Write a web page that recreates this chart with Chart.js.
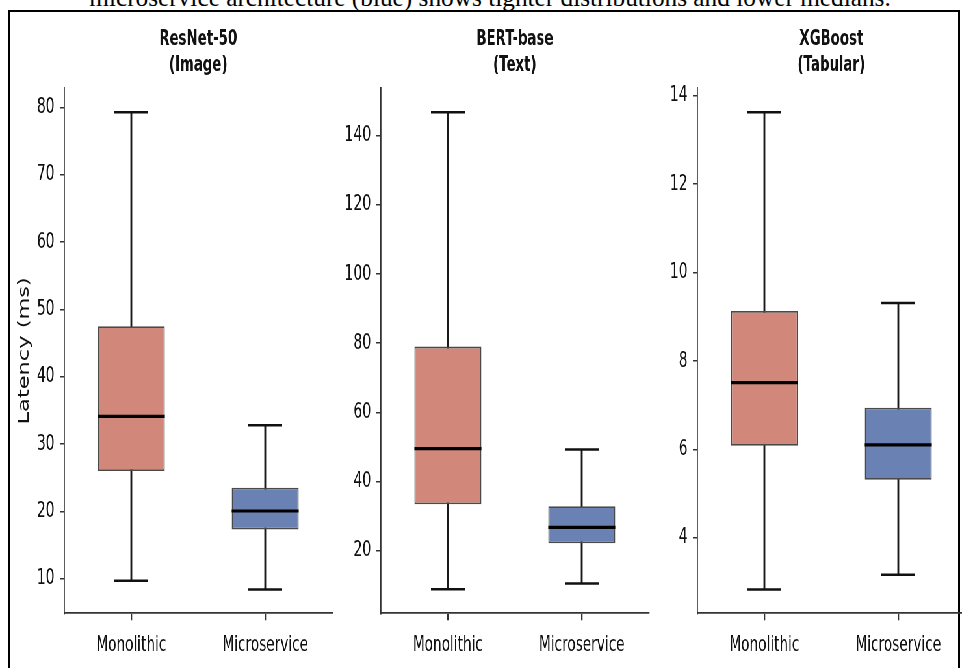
<!DOCTYPE html>
<html>
<head>
<meta charset="utf-8">
<script src="https://cdn.jsdelivr.net/npm/chart.js@4.4.1/dist/chart.umd.min.js"></script>
<style>
html, body { margin: 0; padding: 0; background: #fff; overflow: hidden; width: 962px; height: 668px; }
#caption { position: absolute; left: 0; top: -13.6px; width: 980px; text-align: center; font-family: 'Liberation Serif', serif; font-size: 25.3px; line-height: 22px; color: #000; white-space: nowrap; }
#frame { position: absolute; left: 8px; top: 10px; width: 948px; height: 720px; border: 2px solid #000; }
#stage { position: absolute; left: 0; top: 0; width: 1600px; height: 668px; transform: scaleX(0.65); transform-origin: 0 0; }
#stage canvas { position: absolute; top: 0; }
</style>
</head>
<body>
<div id="caption">microservice architecture (blue) shows tighter distributions and lower medians.</div>
<div id="frame"></div>
<div id="stage">
  <canvas id="c0" width="608" height="668" style="left:1px"></canvas>
  <canvas id="c1" width="608" height="668" style="left:488px"></canvas>
  <canvas id="c2" width="608" height="668" style="left:975px"></canvas>
</div>
<script>
// ---- data ----
const categories = ['Monolithic', 'Microservice'];
const yAxisLabel = 'Latency (ms)';

const resnetTitle = ['ResNet-50', '(Image)'];
const resnetMin    = [9.7, 8.4];
const resnetQ1     = [26.0, 17.3];
const resnetMedian = [34.1, 20.05];
const resnetQ3     = [47.5, 23.5];
const resnetMax    = [79.3, 32.8];
const resnetTicks  = [10, 20, 30, 40, 50, 60, 70, 80];
const resnetLimits = [4.85, 82.86];

const bertTitle = ['BERT-base', '(Text)'];
const bertMin    = [8.8, 10.5];
const bertQ1     = [33.4, 22.1];
const bertMedian = [49.5, 26.7];
const bertQ3     = [79.0, 32.8];
const bertMax    = [146.8, 49.2];
const bertTicks  = [20, 40, 60, 80, 100, 120, 140];
const bertLimits = [1.86, 153.7];

const xgbTitle = ['XGBoost', '(Tabular)'];
const xgbMin    = [2.83, 3.16];
const xgbQ1     = [6.08, 5.31];
const xgbMedian = [7.51, 6.10];
const xgbQ3     = [9.13, 6.94];
const xgbMax    = [13.63, 9.31];
const xgbTicks  = [4, 6, 8, 10, 12, 14];
const xgbLimits = [2.29, 14.17];

// ---- styles ----
const BOX_COLORS = ['#D1877A', '#6A82B3'];
const BOX_EDGE = '#4a4a4a';
const INK = '#111';
const AXIS = '#333';
const FONT = 'DejaVu Sans';

function makePanel(id, title, mn, q1, md, q3, mx, ticks, limits, showYTitle) {
  new Chart(document.getElementById(id), {
    type: 'bar',
    data: {
      labels: categories,
      datasets: [
        { type: 'bar', data: mn.map((v, i) => [v, mx[i]]), backgroundColor: '#1a1a1a',
          barThickness: 2.2, grouped: false, order: 4 },
        { type: 'bar', data: q1.map((v, i) => [v, q3[i]]), backgroundColor: BOX_COLORS,
          borderColor: BOX_EDGE, borderWidth: 1.8, borderSkipped: false,
          barPercentage: 0.5, categoryPercentage: 1, grouped: false, order: 3 },
        { type: 'line', data: mx, showLine: false, pointStyle: 'line', pointRadius: 26,
          pointHoverRadius: 26, pointBorderWidth: 2.5, pointBorderColor: INK, order: 2 },
        { type: 'line', data: mn, showLine: false, pointStyle: 'line', pointRadius: 26,
          pointHoverRadius: 26, pointBorderWidth: 2.5, pointBorderColor: INK, order: 2 },
        { type: 'line', data: md, showLine: false, pointStyle: 'line', pointRadius: 51.5,
          pointHoverRadius: 51.5, pointBorderWidth: 3.2, pointBorderColor: '#000', order: 1 }
      ]
    },
    options: {
      responsive: false,
      animation: false,
      devicePixelRatio: 1,
      layout: { padding: 0 },
      plugins: {
        legend: { display: false },
        tooltip: { enabled: false },
        title: {
          display: true, text: title, color: INK,
          font: { family: FONT, size: 20.5, weight: 'bold', lineHeight: '26.3px' },
          padding: { top: 26.45, bottom: 9.25 }
        }
      },
      scales: {
        x: {
          offset: true,
          afterFit: s => { s.height = 49.7; },
          grid: { offset: false, drawOnChartArea: false, drawTicks: true, tickLength: 7, color: AXIS, lineWidth: 2.3 },
          border: { display: true, color: AXIS, width: 1.8 },
          ticks: { color: INK, font: { family: FONT, size: 21 }, padding: 12.5, maxRotation: 0, autoSkip: false }
        },
        y: {
          min: limits[0], max: limits[1],
          afterBuildTicks: s => { s.ticks = ticks.map(v => ({ value: v })); },
          afterFit: s => { s.width = 98; },
          grid: { drawOnChartArea: false, drawTicks: true, tickLength: 7, color: AXIS, lineWidth: 1.5 },
          border: { display: true, color: AXIS, width: 1.8 },
          ticks: { color: INK, font: { family: FONT, size: 21.5 }, padding: 8 },
          title: { display: showYTitle, text: yAxisLabel, color: INK,
                   font: { family: FONT, size: 22.5 }, padding: { top: 24, bottom: 0 } }
        },
        y2: {
          position: 'right', display: true,
          afterFit: s => { s.width = 98; },
          grid: { display: false, drawTicks: false },
          border: { display: false },
          ticks: { display: false }
        }
      }
    }
  });
}

makePanel('c0', resnetTitle, resnetMin, resnetQ1, resnetMedian, resnetQ3, resnetMax, resnetTicks, resnetLimits, true);
makePanel('c1', bertTitle, bertMin, bertQ1, bertMedian, bertQ3, bertMax, bertTicks, bertLimits, false);
makePanel('c2', xgbTitle, xgbMin, xgbQ1, xgbMedian, xgbQ3, xgbMax, xgbTicks, xgbLimits, false);
</script>
</body>
</html>
